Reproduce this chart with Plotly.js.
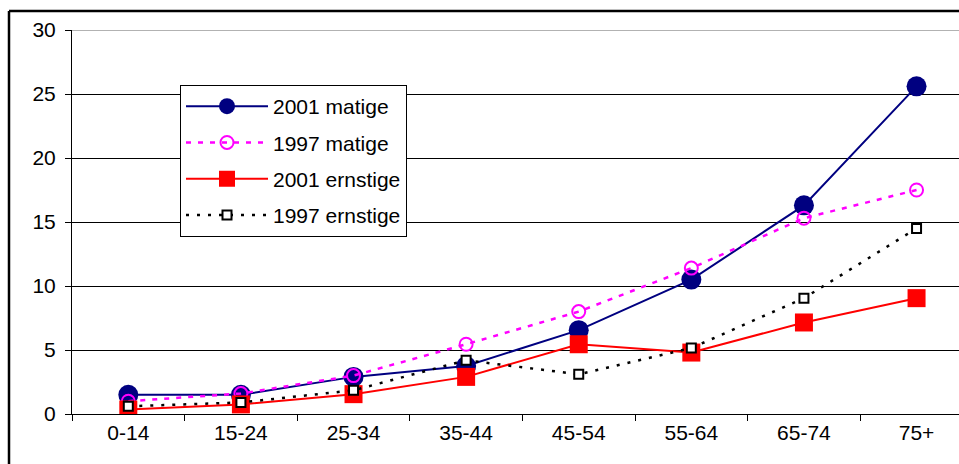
<!DOCTYPE html>
<html>
<head>
<meta charset="utf-8">
<script src="https://cdn.plot.ly/plotly-3.0.1.min.js"></script>
<style>
html,body{margin:0;padding:0;background:#fff;}
#chart{width:959px;height:464px;}
</style>
</head>
<body>
<div id="chart"></div>
<script>
const categories = ["0-14","15-24","25-34","35-44","45-54","55-64","65-74","75+"];
const matige2001 = [1.5, 1.5, 2.9, 3.75, 6.55, 10.5, 16.3, 25.6];
const matige1997 = [1.0, 1.6, 3.0, 5.45, 8.0, 11.4, 15.3, 17.5];
const ernstige2001 = [0.35, 0.75, 1.55, 2.9, 5.45, 4.8, 7.15, 9.05];
const ernstige1997 = [0.6, 0.9, 1.85, 4.2, 3.1, 5.15, 9.05, 14.5];
const yTicks = [0, 5, 10, 15, 20, 25, 30];

const F = '"Liberation Sans", Arial, sans-serif';

const traces = [
  {x: categories, y: matige2001, name: "2001 matige", mode: "lines+markers", legendgroup: "a",
   line: {color: "#000080", width: 2},
   marker: {symbol: "circle", size: 20, color: "#000080"}},
  {x: categories, y: matige1997, name: "1997 matige", mode: "lines+markers", legendgroup: "b",
   line: {color: "#FF00FF", width: 2.5, dash: "5px,7px"},
   marker: {symbol: "circle-open", size: 13, color: "#FF00FF", line: {width: 2, color: "#FF00FF"}}},
  {x: categories, y: ernstige2001, name: "2001 ernstige", mode: "lines+markers", legendgroup: "c",
   line: {color: "#FF0000", width: 2},
   marker: {symbol: "square", size: 18, color: "#FF0000"}},
  {x: categories, y: ernstige1997, name: "1997 ernstige", mode: "lines+markers", legendgroup: "d",
   line: {color: "#000000", width: 2.5, dash: "3px,8px"},
   marker: {symbol: "square", size: 9, color: "#FFFFFF", line: {width: 2, color: "#000000"}}}
];

const layout = {
  width: 959, height: 464,
  margin: {l: 72, r: 0, t: 30, b: 50, pad: 0},
  paper_bgcolor: "#fff", plot_bgcolor: "#fff",
  font: {family: F, size: 21, color: "#000"},
  showlegend: true,
  legend: {
    x: (180-72)/887, y: (414-85)/384, xanchor: "left", yanchor: "top",
    bordercolor: "#000", borderwidth: 1, bgcolor: "#fff",
    font: {family: F, size: 21, color: "#000"},
    traceorder: "grouped", tracegroupgap: 6, itemwidth: 82
  },
  xaxis: {
    type: "category", range: [-0.5, 7.377],
    showline: true, linecolor: "#000", linewidth: 1,
    ticks: "outside", ticklen: 6, tickcolor: "#000", tickson: "boundaries",
    showgrid: false, zeroline: false,
    tickfont: {family: F, size: 21, color: "#000"}
  },
  yaxis: {
    range: [0, 30], tickvals: yTicks, ticktext: yTicks.map(String),
    showline: true, linecolor: "#000", linewidth: 1,
    ticks: "outside", ticklen: 6, tickcolor: "#000", ticklabelstandoff: 5,
    showgrid: true, gridcolor: "#000", gridwidth: 1, zeroline: false,
    tickfont: {family: F, size: 21, color: "#000"}
  },
  shapes: [
    {type: "line", xref: "paper", yref: "y", x0: 0, x1: 1, y0: 30, y1: 30,
     line: {color: "#999", width: 1.5}, layer: "above"},
    {type: "line", xref: "paper", yref: "paper", x0: -63/887, x1: 1.1, y0: (414-11)/384, y1: (414-11)/384,
     line: {color: "#000", width: 2.5}},
    {type: "line", xref: "paper", yref: "paper", x0: -63/887, x1: -63/887, y0: (414-11)/384, y1: -0.2,
     line: {color: "#000", width: 2.5}}
  ]
};

Plotly.newPlot("chart", traces, layout, {displayModeBar: false, staticPlot: true});
</script>
</body>
</html>
